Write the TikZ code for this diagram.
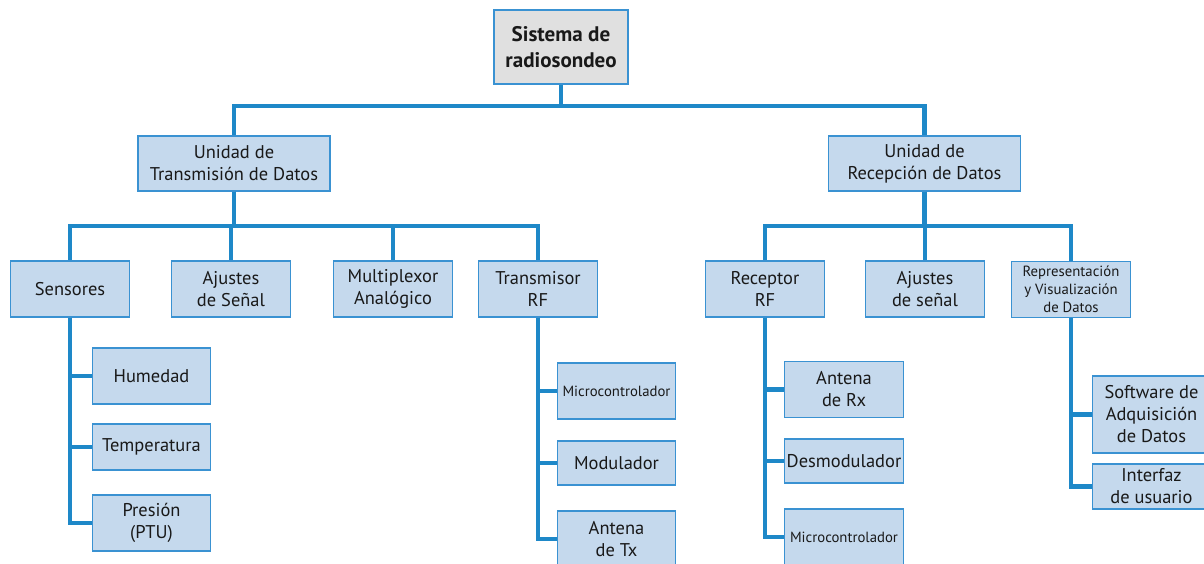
\documentclass[tikz,border=0pt]{standalone}
\usepackage{fontspec}
\setmainfont{PT Sans}
\usepackage{tikz}
\usepackage{xcolor}

\definecolor{lineblue}{RGB}{30,136,200}
\definecolor{edgeblue}{RGB}{58,146,210}
\definecolor{boxblue}{RGB}{197,217,237}
\definecolor{rootgray}{RGB}{224,224,224}

\tikzset{
	box/.style 	= {draw=edgeblue, fill=boxblue, line width=0.8pt, inner sep=0pt,
				   align=center, text=black!90, minimum width=2.37cm, minimum height=1.12cm,
				   font=\fontsize{10.5}{12.5}\selectfont},
	small/.style 	= {font=\fontsize{8.4}{10.2}\selectfont},
	link/.style 	= {draw=lineblue, line width=2.8pt}
}

\begin{document}
\begin{tikzpicture}[x=0.02cm, y=-0.02cm]
					%\draw[help lines] (0,0) grid (1204,564);
					\clip (0,0) rectangle (1204,564);
					\useasboundingbox (0,0) rectangle (1204,564);
					
					\coordinate (busA) at (0,106);
					\coordinate (busB) at (0,226);
					
					\node[box, fill=rootgray, line width=1.6pt, minimum width=2.68cm, minimum height=1.48cm,
						font=\fontsize{12}{14.5}\selectfont\bfseries] (root) at (561,47) {Sistema de\\radiosondeo};
					
					\node[box, minimum width=3.84cm, minimum height=1.10cm] (tdu) at (234,163.5) {Unidad de\\Transmisión de Datos};
					\node[box, minimum width=3.84cm, minimum height=1.10cm] (rdu) at (924.5,163.5) {Unidad de\\Recepción de Datos};
					
					\node[box] (sens) at (70,289) {Sensores};
					\node[box] (ajT) at (231,289) {Ajustes\\de Señal};
					\node[box] (mux) at (393,289) {Multiplexor\\Analógico};
					\node[box] (tx) at (538,289) {Transmisor\\RF};
					\node[box] (rx) at (765,289) {Receptor\\RF};
					\node[box] (ajR) at (925,289) {Ajustes\\de señal};
					\node[box, small] (rep) at (1071,289.5) {Representación\\y Visualización\\de Datos};
					
					\node[box] (hum) at (151.5,376) {Humedad};
					\node[box, minimum height=0.92cm] (temp) at (151.5,447) {Temperatura};
					\node[box] (pres) at (151.5,523) {Presión\\(PTU)};
					
					\node[box, small] (mcT) at (616.5,391) {Microcontrolador};
					\node[box, minimum height=0.88cm] (mod) at (616.5,463) {Modulador};
					\node[box] (antT) at (616.5,539) {Antena\\de Tx};
					
					\node[box] (antR) at (844,389.5) {Antena\\de Rx};
					\node[box, minimum height=0.88cm] (dem) at (844,461) {Desmodulador};
					\node[box, small] (mcR) at (844,537) {Microcontrolador};
					
					\node[box, minimum height=1.54cm] (soft) at (1151.5,414.5) {Software de\\Adquisición\\de Datos};
					\node[box, minimum height=0.90cm] (ui) at (1151.5,486.5) {Interfaz\\de usuario};
					
					\foreach \u in {tdu,rdu}{\draw[link] (root.south) -- (root.south |- busA) -| (\u.north);};
					\foreach \v in {sens,ajT,mux,tx}{\draw[link] (tdu.south) -- (tdu.south |- busB) -| (\v.north);};
					\foreach \v in {rx,ajR,rep}{\draw[link] (rdu.south) -- (rdu.south |- busB) -| (\v.north);};
					\foreach \v in {hum,temp,pres}{\draw[link] (sens.south) |- (\v.west);};
					\foreach \v in {mcT,mod,antT}{\draw[link] (tx.south) |- (\v.west);};
					\foreach \v in {antR,dem,mcR}{\draw[link] (rx.south) |- (\v.west);};
					\foreach \v in {soft,ui}{\draw[link] (rep.south) |- (\v.west);};
				\end{tikzpicture}
\end{document}
